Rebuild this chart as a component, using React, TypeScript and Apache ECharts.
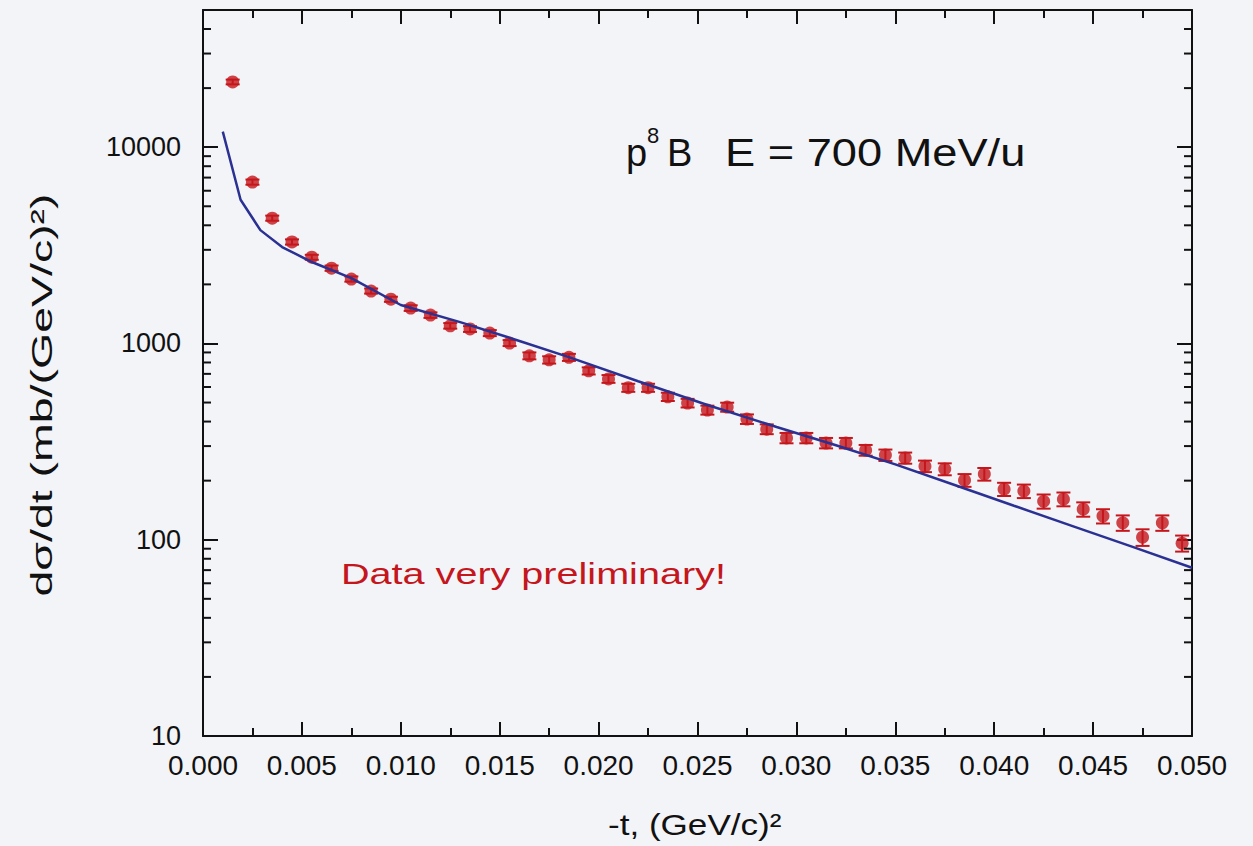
import React, { useEffect, useRef } from "react";
import * as echarts from "echarts";

// measured points: -t (GeV/c)^2
const T_DATA = [
  0.0015, 0.0025, 0.0035, 0.0045, 0.0055, 0.0065, 0.0075, 0.0085, 0.0095, 0.0105,
  0.0115, 0.0125, 0.0135, 0.0145, 0.0155, 0.0165, 0.0175, 0.0185, 0.0195, 0.0205,
  0.0215, 0.0225, 0.0235, 0.0245, 0.0255, 0.0265, 0.0275, 0.0285, 0.0295, 0.0305,
  0.0315, 0.0325, 0.0335, 0.0345, 0.0355, 0.0365, 0.0375, 0.0385, 0.0395, 0.0405,
  0.0415, 0.0425, 0.0435, 0.0445, 0.0455, 0.0465, 0.0475, 0.0485, 0.0495,
];
// dσ/dt values mb/(GeV/c)^2
const DSDT = [
  21500, 6640, 4350, 3290, 2750, 2420, 2130, 1850, 1680, 1515,
  1395, 1230, 1185, 1130, 1005, 865, 825, 850, 725, 660,
  595, 595, 535, 497, 458, 474, 412, 366, 330, 330,
  311, 311, 286, 270, 261, 237, 229, 201, 216, 181,
  177, 157, 161, 143, 132, 122, 103, 122, 96,
];
const DSDT_ERR = [
  600, 200, 130, 100, 80, 75, 65, 55, 50, 50,
  45, 40, 40, 40, 35, 35, 35, 35, 30, 30,
  28, 28, 26, 25, 24, 25, 23, 21, 20, 20,
  19, 19, 18, 18, 17, 16, 16, 15, 16, 14,
  14, 13, 13, 12, 11, 11, 10, 11, 9,
];
// theory curve
const T_THEORY = [
  0.001, 0.0019, 0.0029, 0.004, 0.0055, 0.0075, 0.01, 0.013, 0.016, 0.0185,
  0.022, 0.0255, 0.029, 0.032, 0.035, 0.038, 0.041, 0.044, 0.047, 0.05,
];
const DSDT_THEORY = [
  12000, 5400, 3780, 3100, 2600, 2150, 1570, 1285, 1030, 852,
  642, 486, 375, 303, 242, 190, 149, 117, 92, 72,
];
const Y_MINOR_TICKS = [
  20, 30, 40, 50, 60, 70, 80, 90,
  200, 300, 400, 500, 600, 700, 800, 900,
  2000, 3000, 4000, 5000, 6000, 7000, 8000, 9000,
  20000, 30000, 40000,
];

const FONT = "'Liberation Sans', Arial, Helvetica, sans-serif";
const RED = "#c4161c";
const BLUE = "#2a3192";
const INK = "#111111";
const BG = "#f3f4f8";

export default function App() {
  const ref = useRef<HTMLDivElement>(null);
  useEffect(() => {
    const chart = echarts.init(ref.current!, undefined, { renderer: "svg" });
    const X_MIN = 0;
    const X_MAX = 0.05;
    const xCommon = {
      type: "value",
      min: X_MIN,
      max: X_MAX,
      interval: 0.005,
      splitLine: { show: false },
      axisLine: { show: true, onZero: false, lineStyle: { color: INK, width: 2 } },
      axisTick: { show: true, inside: true, length: 14, lineStyle: { color: INK, width: 2 } },
      minorTick: { show: true, splitNumber: 2, length: 8, lineStyle: { color: INK, width: 2 } },
    };
    const yCommon = {
      type: "log",
      logBase: 10,
      min: 10,
      max: 50000,
      splitLine: { show: false },
      axisLine: { show: true, onZero: false, lineStyle: { color: INK, width: 2 } },
      axisTick: { show: true, inside: true, length: 15, lineStyle: { color: INK, width: 2 } },
    };
    chart.setOption({
      animation: false,
      backgroundColor: BG,
      grid: { left: 203, right: 61, top: 10, bottom: 110 },
      xAxis: [
        {
          ...xCommon,
          position: "bottom",
          axisLabel: {
            show: true,
            margin: 15,
            fontSize: 28,
            fontFamily: FONT,
            color: INK,
            formatter: (v: number) => v.toFixed(3),
          },
        },
        { ...xCommon, position: "top", axisLabel: { show: false } },
      ],
      yAxis: [
        {
          ...yCommon,
          position: "left",
          axisLabel: {
            show: true,
            margin: 22,
            fontSize: 27,
            fontFamily: FONT,
            color: INK,
            showMaxLabel: false,
            formatter: (v: number) => String(Math.round(v)),
          },
        },
        { ...yCommon, position: "right", axisLabel: { show: false } },
      ],
      series: [
        {
          type: "custom",
          name: "minor ticks",
          xAxisIndex: 0,
          yAxisIndex: 0,
          clip: false,
          silent: true,
          encode: { x: 0, y: 1 },
          data: Y_MINOR_TICKS.map((v) => [X_MIN, v]),
          renderItem: (params: any, api: any) => {
            const v = api.value(1);
            const a = api.coord([X_MIN, v]);
            const b = api.coord([X_MAX, v]);
            const st = { stroke: INK, lineWidth: 2 };
            return {
              type: "group",
              children: [
                { type: "line", shape: { x1: a[0], y1: a[1], x2: a[0] + 8, y2: a[1] }, style: st },
                { type: "line", shape: { x1: b[0] - 8, y1: b[1], x2: b[0], y2: b[1] }, style: st },
              ],
            };
          },
          z: 5,
        },
        {
          type: "custom",
          name: "error bars",
          encode: { x: 0, y: 1 },
          data: T_DATA.map((t, i) => [t, DSDT[i], DSDT_ERR[i]]),
          renderItem: (params: any, api: any) => {
            const x = api.value(0);
            const y = api.value(1);
            const e = api.value(2);
            const hi = api.coord([x, y + e]);
            const lo = api.coord([x, y - e]);
            const hw = 7;
            const st = { stroke: RED, lineWidth: 2 };
            return {
              type: "group",
              children: [
                { type: "line", shape: { x1: hi[0], y1: hi[1], x2: lo[0], y2: lo[1] }, style: st },
                { type: "line", shape: { x1: hi[0] - hw, y1: hi[1], x2: hi[0] + hw, y2: hi[1] }, style: st },
                { type: "line", shape: { x1: lo[0] - hw, y1: lo[1], x2: lo[0] + hw, y2: lo[1] }, style: st },
              ],
            };
          },
          z: 2,
        },
        {
          type: "scatter",
          name: "data",
          symbol: "circle",
          symbolSize: 13,
          itemStyle: { color: RED },
          data: T_DATA.map((t, i) => [t, DSDT[i]]),
          z: 3,
        },
        {
          type: "line",
          name: "theory",
          showSymbol: false,
          symbol: "none",
          lineStyle: { color: BLUE, width: 2.5 },
          data: T_THEORY.map((t, i) => [t, DSDT_THEORY[i]]),
          z: 4,
        },
      ],
      graphic: [
        { type: "text", x: 626, y: 153, style: { text: "p", fontSize: 38, fontFamily: FONT, fill: INK, verticalAlign: "middle" } },
        { type: "text", x: 647, y: 135, style: { text: "8", fontSize: 22, fontFamily: FONT, fill: INK, verticalAlign: "middle" } },
        { type: "text", x: 667, y: 153, style: { text: "B", fontSize: 38, fontFamily: FONT, fill: INK, verticalAlign: "middle" } },
        { type: "text", x: 725, y: 153, scaleX: 1.19, style: { text: "E = 700 MeV/u", fontSize: 38, fontFamily: FONT, fill: INK, verticalAlign: "middle" } },
        { type: "text", x: 341, y: 573, scaleX: 1.32, style: { text: "Data very preliminary!", fontSize: 30, fontFamily: FONT, fill: RED, verticalAlign: "middle" } },
        { type: "text", x: 608, y: 824, scaleX: 1.17, style: { text: "-t, (GeV/c)²", fontSize: 30, fontFamily: FONT, fill: INK, verticalAlign: "middle" } },
        { type: "text", x: 42, y: 395, rotation: Math.PI / 2, scaleX: 1.55, style: { text: "dσ/dt (mb/(GeV/c)²)", fontSize: 30, fontFamily: FONT, fill: INK, align: "center", verticalAlign: "middle" } },
      ],
    });
    return () => chart.dispose();
  }, []);
  return <div ref={ref} style={{ position: "absolute", left: 0, top: 0, width: 1253, height: 846 }} />;
}
